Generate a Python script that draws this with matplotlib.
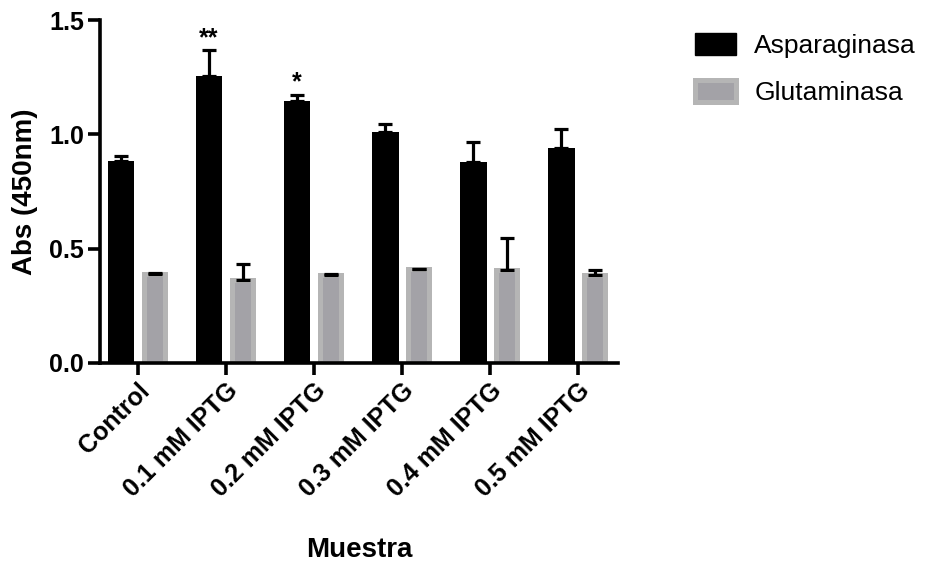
import numpy as np
import matplotlib
matplotlib.use('Agg')
import matplotlib.pyplot as plt

plt.rcParams['font.family'] = ['Liberation Sans', 'DejaVu Sans']

muestras = ['Control', '0.1 mM IPTG', '0.2 mM IPTG', '0.3 mM IPTG', '0.4 mM IPTG', '0.5 mM IPTG']
asp = [0.882, 1.254, 1.147, 1.010, 0.878, 0.941]
asp_err = [0.024, 0.116, 0.027, 0.036, 0.090, 0.083]
glu = [0.388, 0.363, 0.385, 0.410, 0.405, 0.386]
glu_err = [0.006, 0.070, 0.004, 0.003, 0.143, 0.020]
signif = ['', '**', '*', '', '', '']

x = np.arange(len(muestras))
off = 0.19

fig = plt.figure(figsize=(9.3, 5.61), dpi=100)
ax = fig.add_axes([0.1075, 0.353, 0.557, 0.611])

ax.bar(x-off, asp, 0.303, color='black', zorder=2)
ax.bar(x+off, glu, 0.245, color='#a3a2a7', edgecolor='#b5b5b5', linewidth=3.6, zorder=2)
ax.errorbar(x-off, asp, yerr=[np.zeros(len(x)), asp_err], fmt='none', ecolor='black',
            elinewidth=2.3, capsize=5, capthick=2.3, zorder=3)
ax.errorbar(x+off, glu, yerr=[np.zeros(len(x)), glu_err], fmt='none', ecolor='black',
            elinewidth=2.3, capsize=5, capthick=2.3, zorder=3)

for i in range(len(x)):
	if signif[i]:
		ax.text(x[i]-off, asp[i]+asp_err[i]+0.022, signif[i], ha='center', va='baseline',
		        fontsize=18, fontweight='bold')

ax.set_xlim(-0.43, 5.455)
ax.set_ylim(0, 1.5)
ax.set_yticks([0.0, 0.5, 1.0, 1.5])
ax.set_yticklabels(['0.0', '0.5', '1.0', '1.5'])
ax.set_xticks(x)
ax.set_xticklabels(muestras, rotation=45, ha='right', rotation_mode='anchor')

for s in ['top', 'right']:
	ax.spines[s].set_visible(False)
for s in ['left', 'bottom']:
	ax.spines[s].set_linewidth(2.6)
ax.tick_params(axis='both', width=2.6, length=8.5, labelsize=18, pad=3)
for lab in ax.get_xticklabels()+ax.get_yticklabels():
	lab.set_fontweight('bold')

ax.set_ylabel('Abs (450nm)', fontsize=20, fontweight='bold', labelpad=8)
ax.set_xlabel('Muestra', fontsize=20, fontweight='bold', labelpad=25)

h1 = plt.Rectangle((0, 0), 1, 1, color='black')
h2 = plt.Rectangle((0, 0), 1, 1, facecolor='#a3a2a7', edgecolor='#b5b5b5', linewidth=3.6)
fig.legend([h1, h2], ['Asparaginasa', 'Glutaminasa'], loc='upper left',
           bbox_to_anchor=(0.733, 0.965), frameon=False, fontsize=19,
           handlelength=1.55, handleheight=0.9, handletextpad=0.7, labelspacing=0.85,
           borderpad=0)

fig.savefig('out.png', dpi=100)
